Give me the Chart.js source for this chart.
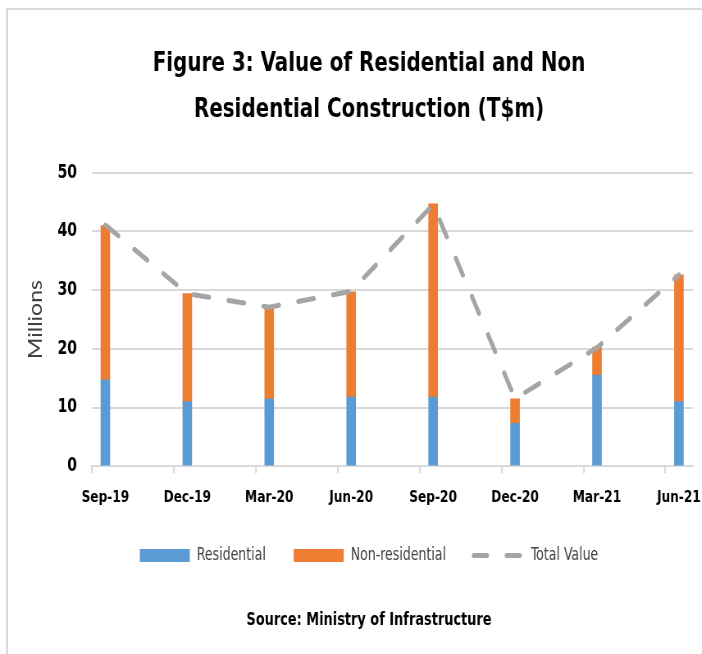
<!DOCTYPE html>
<html>
<head>
<meta charset="utf-8">
<script src="https://cdn.jsdelivr.net/npm/chart.js@4/dist/chart.umd.min.js"></script>
<style>
  html, body { margin: 0; padding: 0; background: #ffffff; overflow: hidden; }
  #wrap { position: relative; width: 702px; height: 654px; overflow: hidden; }
  #frame { position: absolute; left: 6px; top: 8px; right: 0; bottom: 0;
           border-left: 2px solid #d9d9d9; border-top: 2px solid #d9d9d9; pointer-events: none; }
  /* the source chart is horizontally compressed; reproduce that with a scaleX */
  #c { position: absolute; left: 0; top: 0; transform: scaleX(0.82); transform-origin: 0 0; }
</style>
</head>
<body>
<div id="wrap">
  <canvas id="c" width="856" height="654" style="width:856px;height:654px"></canvas>
  <div id="frame"></div>
</div>
<script>
const categories = ['Sep-19', 'Dec-19', 'Mar-20', 'Jun-20', 'Sep-20', 'Dec-20', 'Mar-21', 'Jun-21'];
const residential = [14.7, 11.0, 11.5, 11.8, 11.8, 7.3, 15.5, 11.0];
const nonResidential = [26.3, 18.4, 15.5, 17.9, 32.9, 4.2, 4.8, 21.6];
const totalValue = [41.1, 29.4, 27.1, 29.8, 44.6, 11.5, 20.2, 32.6];
const yTicks = [0, 10, 20, 30, 40, 50];

const FONT = "'DejaVu Sans Condensed', 'DejaVu Sans', sans-serif";
const X_MIN = -0.165, X_MAX = 7.171;

const toPoints = arr => arr.map((v, i) => ({ x: i, y: v }));

new Chart(document.getElementById('c'), {
  type: 'bar',
  data: {
    datasets: [
      { label: 'Residential', data: toPoints(residential), backgroundColor: '#5b9bd5',
        borderWidth: 0, barThickness: 11, grouped: false, order: 1 },
      { label: 'Non-residential', data: toPoints(nonResidential), backgroundColor: '#ed7d31',
        borderWidth: 0, barThickness: 11, grouped: false, order: 1 },
      { type: 'line', label: 'Total Value', data: toPoints(totalValue), borderColor: '#a5a5a5',
        backgroundColor: '#a5a5a5', borderWidth: 5, borderDash: [19, 24], borderCapStyle: 'round',
        pointRadius: 0, tension: 0, fill: false, order: -1 }
    ]
  },
  options: {
    responsive: false,
    animation: false,
    devicePixelRatio: 1,
    layout: { padding: { left: 44, right: 0, top: 0, bottom: 0 } },
    scales: {
      x: {
        type: 'linear', position: 'bottom', min: X_MIN, max: X_MAX, offset: false,
        afterBuildTicks: s => { s.ticks = categories.map((_, i) => ({ value: X_MIN + i })); },
        ticks: { display: false },
        grid: { offset: false, drawOnChartArea: false, drawTicks: true, tickLength: 7, color: '#d9d9d9', lineWidth: 2 },
        border: { display: true, color: '#d9d9d9', width: 2 }
      },
      x2: {
        type: 'linear', position: 'bottom', min: X_MIN, max: X_MAX, offset: false, weight: 1,
        afterBuildTicks: s => { s.ticks = categories.map((_, i) => ({ value: i })); },
        afterFit: s => { s.height = s.height - 10; s.paddingLeft = 0; s.paddingRight = 0; },
        ticks: { callback: v => categories[v], padding: 15, maxRotation: 0, autoSkip: false,
                 font: { family: FONT, size: 16.5, weight: 'bold' }, color: '#000000' },
        grid: { offset: false, display: false, drawTicks: false },
        border: { display: false }
      },
      y: {
        stacked: true, min: 0, max: 50,
        afterBuildTicks: s => { s.ticks = yTicks.map(v => ({ value: v })); },
        afterFit: s => { s.width = 68; },
        ticks: { padding: 18, font: { family: FONT, size: 19, weight: 'bold' }, color: '#000000' },
        grid: { drawTicks: false, color: '#d9d9d9', lineWidth: 2 },
        border: { display: false },
        title: { display: true, text: 'Millions', color: '#404040',
                 font: { family: "Lato, 'Open Sans', sans-serif", size: 23 }, padding: { top: -14, bottom: 0 } }
      },
      yR: {
        type: 'linear', position: 'right', display: true,
        afterFit: s => { s.width = 11; },
        ticks: { display: false }, grid: { display: false }, border: { display: false }
      }
    },
    plugins: {
      title: {
        display: true,
        text: ['Figure 3: Value of Residential and Non', 'Residential Construction (T$m)'],
        color: '#000000',
        font: { family: FONT, size: 27, weight: 'bold', lineHeight: 1.7 },
        padding: { top: 41, bottom: 40 }
      },
      subtitle: {
        display: true, position: 'bottom',
        text: 'Source: Ministry of Infrastructure',
        color: '#000000',
        font: { family: FONT, size: 17.5, weight: 'bold', lineHeight: 1.2 },
        padding: { top: 36, bottom: 23 }
      },
      legend: {
        position: 'bottom',
        labels: {
          usePointStyle: true, pointStyleWidth: 61, boxHeight: 13, padding: 34,
          color: '#404040', font: { family: FONT, size: 17 },
          generateLabels: chart => {
            const items = Chart.defaults.plugins.legend.labels.generateLabels(chart);
            items.sort((a, b) => a.datasetIndex - b.datasetIndex);
            return items.map(it => {
              const ds = chart.data.datasets[it.datasetIndex];
              if (ds.type === 'line') {
                it.pointStyle = 'line'; it.lineDash = [16, 24]; it.lineCap = 'round';
                it.strokeStyle = ds.borderColor; it.lineWidth = 5;
              } else {
                it.pointStyle = 'rect'; it.lineWidth = 0;
              }
              return it;
            });
          }
        }
      },
      tooltip: { enabled: false }
    }
  }
});
</script>
</body>
</html>
